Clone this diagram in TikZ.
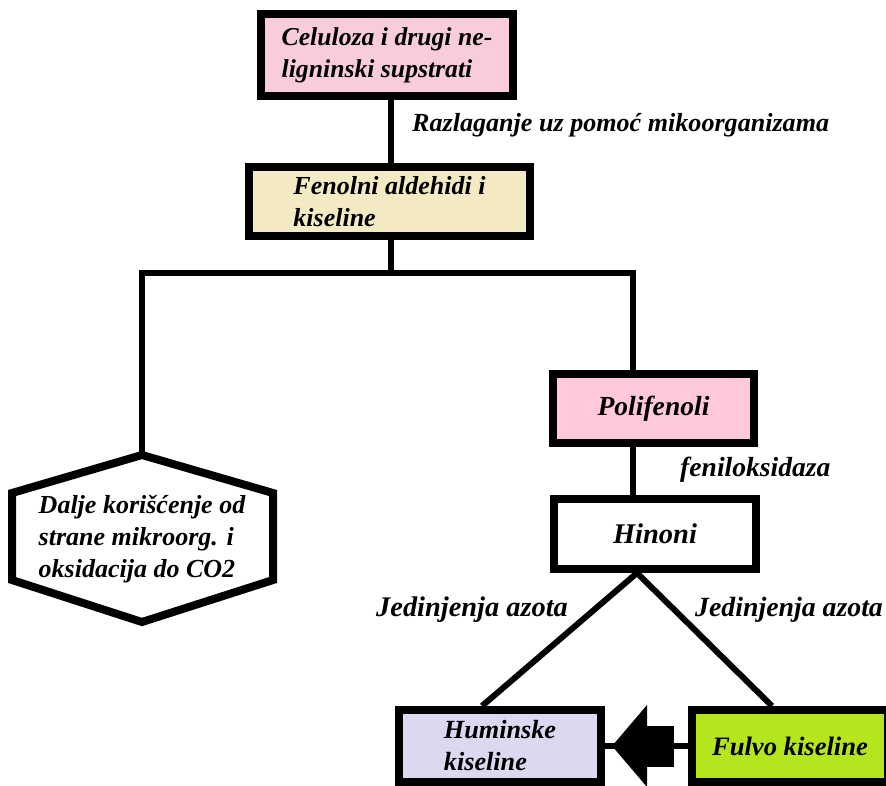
\documentclass[tikz,border=0pt]{standalone}
\usepackage{fontspec}
\setmainfont{Liberation Serif}
\usetikzlibrary{arrows.meta,calc}
\definecolor{pinkA}{HTML}{F9CCDC}
\definecolor{pinkB}{HTML}{FFC8DC}
\definecolor{tanA}{HTML}{F3EAC4}
\definecolor{lavA}{HTML}{DCD8EF}
\definecolor{limeA}{HTML}{B5E61D}
\begin{document}
\begin{tikzpicture}[x=1pt,y=-1pt,
  fs/.style={font=\fontsize{#1}{32}\selectfont\bfseries\itshape},
  box/.style={draw=black,line width=8pt,inner sep=0pt,rectangle,align=left},
  conn/.style={draw=black,line width=6pt},
  lbl/.style={anchor=west,inner sep=0pt}]
\useasboundingbox (0,0) rectangle (886,785);
% boxes
\node[box,fs=25.7,fill=pinkA,minimum width=252pt,minimum height=82pt] (cel) at (387,55) {Celuloza i drugi ne-\\ligninski supstrati};
\node[box,fs=26,fill=tanA,minimum width=281pt,minimum height=69pt] (fen) at (389.5,201.5) {Fenolni aldehidi i\\kiseline};
\node[box,fs=27.6,fill=pinkB,minimum width=201pt,minimum height=69pt] (pol) at (653.5,408.5) {Polifenoli};
\node[box,fs=28.5,fill=white,minimum width=202pt,minimum height=70pt] (hin) at (655,534) {Hinoni};
\node[box,fs=26.2,fill=lavA,minimum width=202pt,minimum height=72pt] (hum) at (500,746) {Huminske\\kiseline};
\node[box,fs=26.6,fill=limeA,minimum width=196pt,minimum height=72pt] (ful) at (790,746) {Fulvo kiseline};
% hexagon
\draw[line width=8pt,line join=miter,fill=white] (142,455) -- (273,493) -- (273,580) -- (142,622) -- (12,580) -- (12,493) -- cycle;
\coordinate (hextop) at (142,457);
\node[fs=26,align=left,inner sep=0pt] (hex) at (142,539) {Dalje korišćenje od\\strane mikroorg. i\\oksidacija do CO2};
% connectors
\coordinate (split) at (391,273);
\coordinate (rjoin) at (633,273);
\draw[conn] (cel.south -| split) -- (fen.north -| split);
\draw[conn] (fen.south -| split) -- (split);
\draw[conn,line join=miter] (hextop) |- (rjoin) -- (rjoin |- pol.north);
\draw[conn] (pol.south -| rjoin) -- (hin.north -| rjoin);
\coordinate (apex) at ($(hin.south)+(-18,0)$);
\draw[conn,line join=miter] ($(hum.north)+(-18,0)$) -- (apex) -- ($(ful.north)+(-18,0)$);
% big arrow
\draw[line width=6pt] (ful.west) -- (hum.east);
\draw[line width=41pt,-{Triangle[length=35pt,width=80pt]},shorten <=14pt,shorten >=7pt] (ful.west) -- (hum.east);
% labels
\node[lbl,fs=26.1] (razl) at (412,125) {Razlaganje uz pomoć mikoorganizama};
\node[lbl,fs=27.6] (fenil) at (680,470) {feniloksidaza};
\node[lbl,fs=28.4] (jed1) at (376,610) {Jedinjenja azota};
\node[lbl,fs=27.8] (jed2) at (695,610) {Jedinjenja azota};
\end{tikzpicture}
\end{document}
